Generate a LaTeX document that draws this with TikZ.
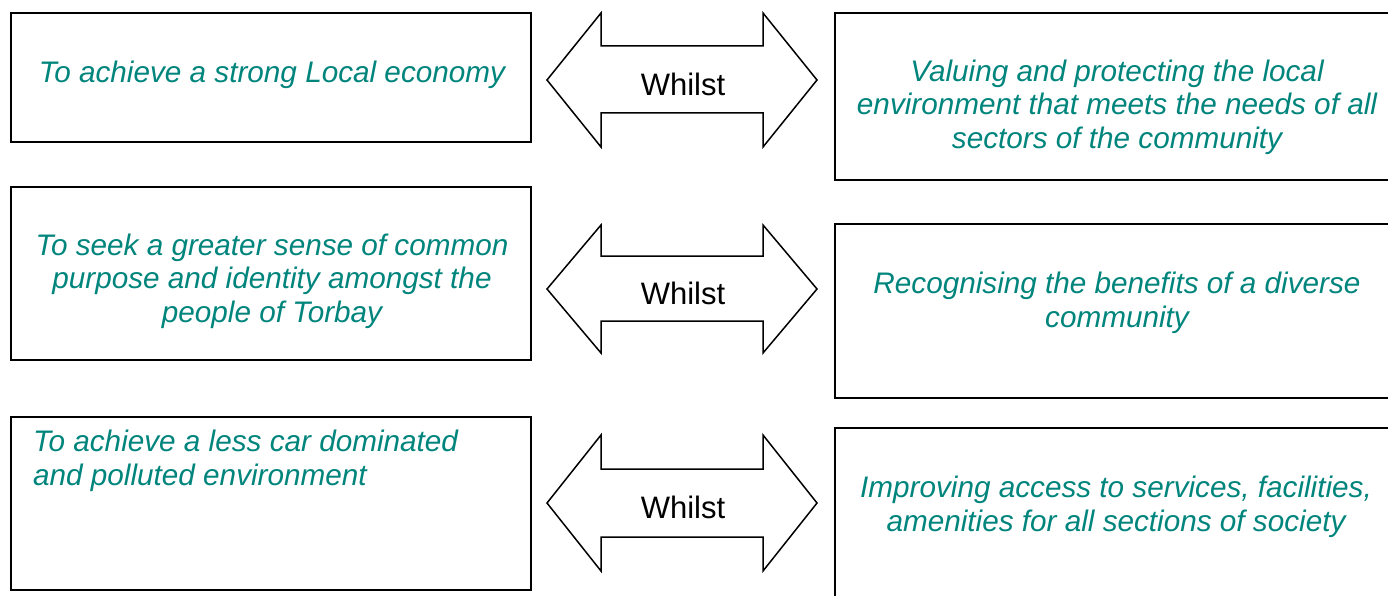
\documentclass[tikz,border=0pt]{standalone}
\usepackage{fontspec}
\setmainfont{Liberation Sans}
\definecolor{teal1}{HTML}{00857D}
\tikzset{
  box/.style={draw=black,line width=2pt,fill=white},
  txt/.style={text=teal1,font=\fontsize{29.7}{33.5}\selectfont\itshape,align=center,inner sep=0pt},
  ltxt/.style={text=teal1,font=\fontsize{29.7}{33.5}\selectfont\itshape,align=left,inner sep=0pt},
  arr/.style={draw=black,line width=1.5pt,fill=white,line join=miter},
  wl/.style={font=\fontsize{31}{35}\selectfont,inner sep=0pt}
}
\begin{document}
\begin{tikzpicture}[x=1pt,y=-1pt]
\clip (0,0) rectangle (1388,596);
\fill[white] (0,0) rectangle (1388,596);
% left boxes
\draw[box] (11,13) rectangle (531,142) node[pos=0.5] (L1) {};
\draw[box] (11,187) rectangle (531,360) node[pos=0.5] (L2) {};
\draw[box] (11,417) rectangle (531,590) node[pos=0.5] (L3) {};
% right boxes
\draw[box] (835,13) rectangle (1400,180) node[pos=0.5] (R1) {};
\draw[box] (835,224) rectangle (1400,398) node[pos=0.5] (R2) {};
\draw[box] (835,428) rectangle (1400,610) node[pos=0.5] (R3) {};
% texts
\node[txt] (t1) at (272,75) {To achieve a strong Local economy};
\node[txt] (t2) at (272,281) {To seek a greater sense of common\\purpose and identity amongst the\\people of Torbay};
\node[ltxt,anchor=north west] (t3) at (33,430) {To achieve a less car dominated\\and polluted environment};
\node[txt] (t4) at (1117,107) {Valuing and protecting the local\\environment that meets the needs of all\\sectors of the community};
\node[txt] (t5) at (1117,303) {Recognising the benefits of a diverse\\community};
\node[txt] (t6) at (1116,507) {Improving access to services, facilities,\\amenities for all sections of society};
% arrows
\draw[arr] (547,80) -- (601,13) -- (601,46) -- (763,46) -- (763,13) -- (817,80) -- (763,147) -- (763,113) -- (601,113) -- (601,147) -- cycle;
\node[wl] (w1) at (683,84) {Whilst};
\draw[arr] (547,289) -- (601,225) -- (601,256) -- (763,256) -- (763,225) -- (817,289) -- (763,353) -- (763,321) -- (601,321) -- (601,353) -- cycle;
\node[wl] (w2) at (683,293) {Whilst};
\draw[arr] (547,503) -- (601,435) -- (601,469) -- (763,469) -- (763,435) -- (817,503) -- (763,571) -- (763,537) -- (601,537) -- (601,571) -- cycle;
\node[wl] (w3) at (683,507) {Whilst};
\end{tikzpicture}
\end{document}
